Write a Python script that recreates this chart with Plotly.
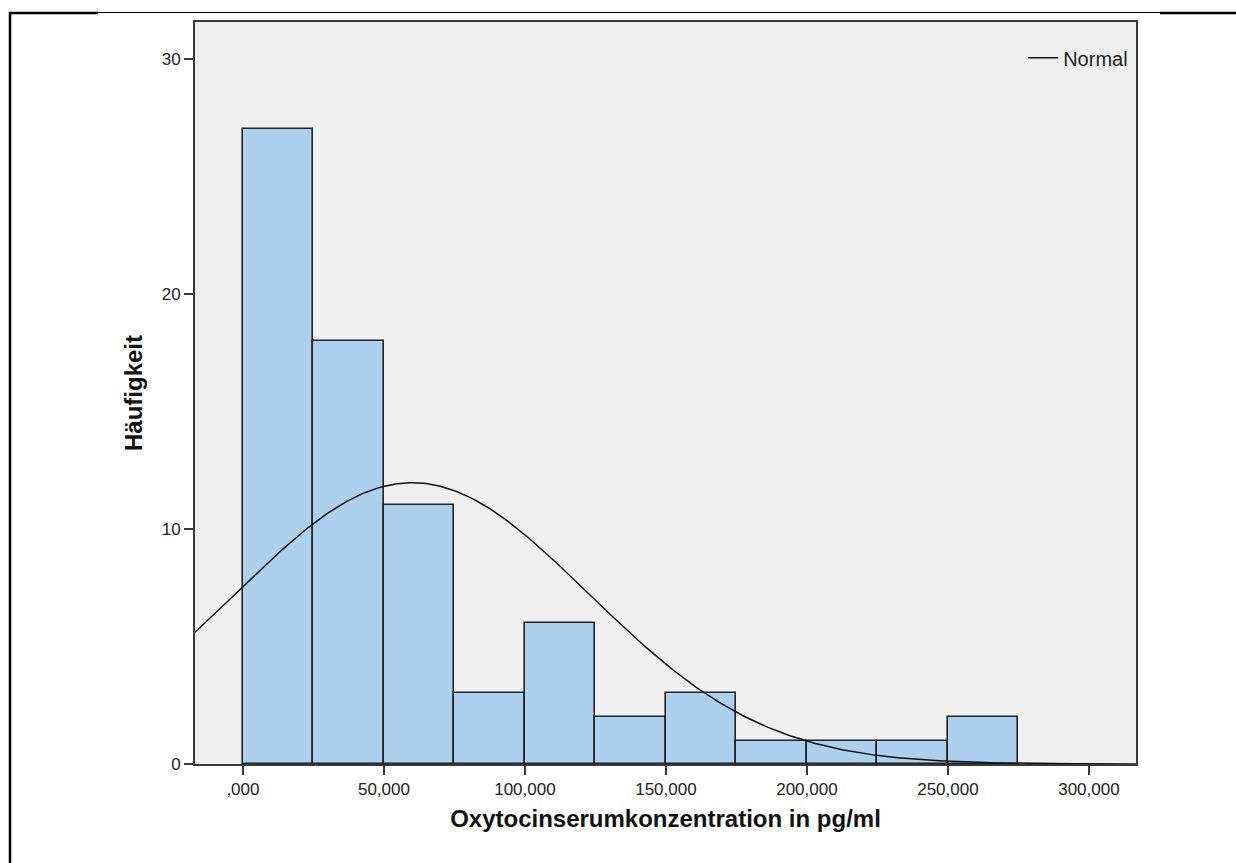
import numpy as np
import plotly.graph_objects as go

# Histogram bins (lower edges, pg/ml) and frequencies
bin_starts = [0, 25, 50, 75, 100, 125, 150, 175, 200, 225, 250]
bin_width = 25
counts = [27, 18, 11, 3, 6, 2, 3, 1, 1, 1, 2]

# Parameters of the fitted normal curve
mean_conc = 60.0
sd_conc = 62.5

x_tickvals = [0, 50, 100, 150, 200, 250, 300]
x_ticktext = [",000", "50,000", "100,000", "150,000", "200,000", "250,000", "300,000"]
y_tickvals = [0, 10, 20, 30]

x_range = [-17, 316.7]
y_range = [0, 31.57]

n_total = sum(counts)
centers = [s + bin_width / 2 for s in bin_starts]

xs = np.linspace(x_range[0], x_range[1], 400)
density = np.exp(-0.5 * ((xs - mean_conc) / sd_conc) ** 2) / (sd_conc * np.sqrt(2 * np.pi))
curve = n_total * bin_width * density

fig = go.Figure()
fig.add_trace(go.Bar(
    x=centers, y=counts, width=bin_width,
    marker=dict(color="#ADD0EE", line=dict(color="#222222", width=1.6)),
    showlegend=False, hoverinfo="x+y",
))
fig.add_trace(go.Scatter(
    x=xs, y=curve, mode="lines", name="Normal",
    line=dict(color="#111111", width=1.5),
))

W, H = 1236, 863
L, R, T, B = 195, 1136, 22, 764
pw, ph = R - L, B - T


def px(x):
    return (x - L) / pw


def py(y):
    return (B - y) / ph


frame = []
# left rule of the output frame
frame.append(dict(type="line", xref="paper", yref="paper",
                  x0=px(10), x1=px(10), y0=py(12), y1=py(H + 5),
                  line=dict(color="#000000", width=2.5)))
# top rule: thin middle part, heavier ends
frame.append(dict(type="line", xref="paper", yref="paper",
                  x0=px(98), x1=px(1160), y0=py(12.5), y1=py(12.5),
                  line=dict(color="#000000", width=1)))
frame.append(dict(type="line", xref="paper", yref="paper",
                  x0=px(10), x1=px(98), y0=py(13), y1=py(13),
                  line=dict(color="#000000", width=2.5)))
frame.append(dict(type="line", xref="paper", yref="paper",
                  x0=px(1160), x1=px(W + 5), y0=py(13), y1=py(13),
                  line=dict(color="#000000", width=2.5)))

fig.update_layout(
    width=W, height=H,
    margin=dict(l=L, r=W - R, t=T, b=H - B, pad=0),
    paper_bgcolor="#FFFFFF",
    plot_bgcolor="#EFEFEF",
    bargap=0,
    font=dict(family="Liberation Sans, Arial, sans-serif", color="#222222", size=17),
    shapes=frame,
    legend=dict(x=0.997, y=0.978, xanchor="right", yanchor="top",
                bgcolor="rgba(0,0,0,0)", font=dict(size=20, color="#222222")),
    xaxis=dict(
        range=x_range, tickvals=x_tickvals, ticktext=x_ticktext,
        showgrid=False, zeroline=False,
        showline=True, mirror=True, linecolor="#3a3a3a", linewidth=2,
        ticks="outside", ticklen=9, tickwidth=2, tickcolor="#3a3a3a",
        title=dict(text="<b>Oxytocinserumkonzentration in pg/ml</b>",
                   font=dict(size=24, color="#111111"), standoff=12),
    ),
    yaxis=dict(
        range=y_range, tickvals=y_tickvals,
        showgrid=False, zeroline=False,
        showline=True, mirror=True, linecolor="#3a3a3a", linewidth=2,
        ticks="outside", ticklen=9, tickwidth=2, tickcolor="#3a3a3a",
        title=dict(text="<b>Häufigkeit</b>",
                   font=dict(size=24, color="#111111"), standoff=12),
    ),
)

fig.write_html("out.html")
